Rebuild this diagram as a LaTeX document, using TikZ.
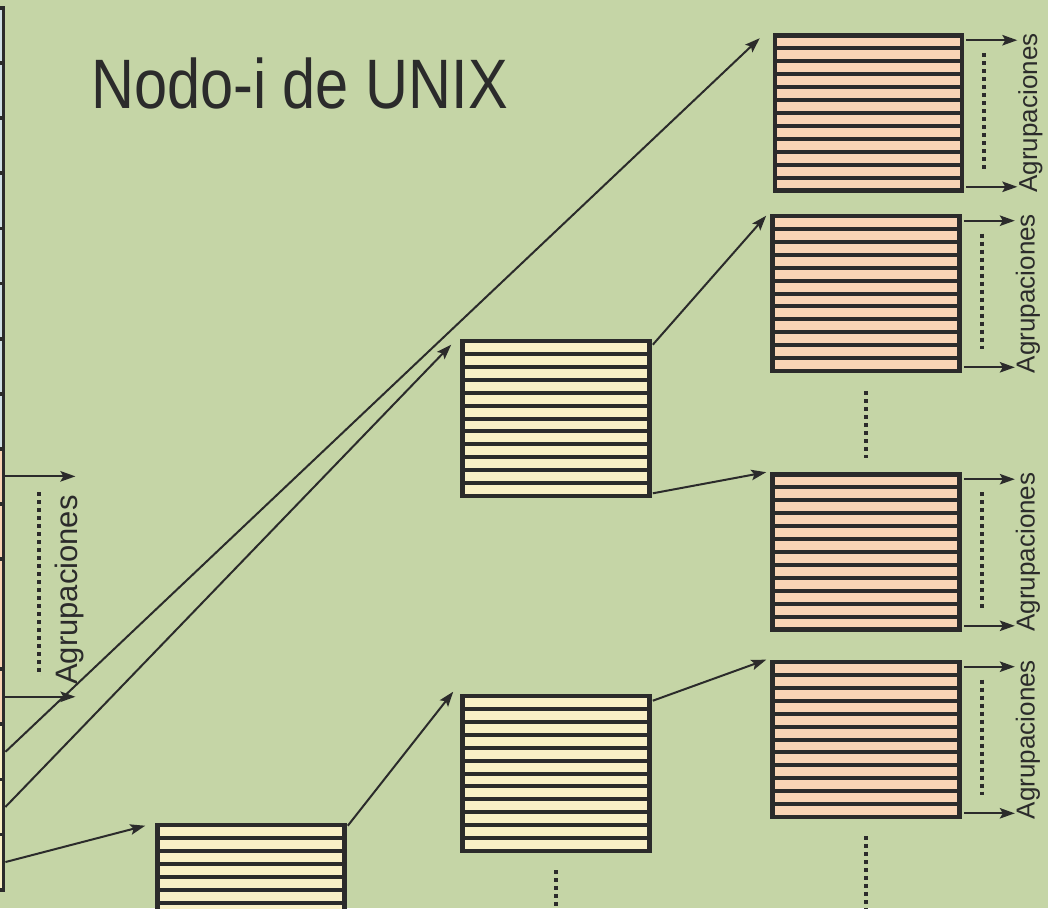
\documentclass[tikz,border=0pt]{standalone}
\usepackage{fontspec}
\setmainfont{Liberation Sans}
\usetikzlibrary{calc,arrows.meta}
\definecolor{bg}{HTML}{C5D5A6}
\definecolor{dk}{HTML}{2B2B2B}
\definecolor{orf}{HTML}{F9D4B5}
\definecolor{ylf}{HTML}{F9F0C6}
\definecolor{blf}{HTML}{D0E0E6}
\begin{document}
\begin{tikzpicture}[x=1pt,y=-1pt,
  stripebox/.style={draw=dk,line width=4.6pt,minimum width=187pt,minimum height=155pt,inner sep=0pt,
    path picture={\foreach \i in {1,...,11}{\draw[dk,line width=4pt] ($(path picture bounding box.north west)!\i/12!(path picture bounding box.south west)$) -- ($(path picture bounding box.north east)!\i/12!(path picture bounding box.south east)$);}}},
  obox/.style={stripebox,fill=orf},
  ybox/.style={stripebox,fill=ylf},
  cell/.style={draw=dk,line width=3.8pt,minimum width=73pt,inner sep=0pt},
  conn/.style={dk,line width=2pt,-{Stealth[length=15pt,width=10.5pt,inset=3pt]}},
  dots/.style={dk,line width=4pt,dash pattern=on 4pt off 4pt},
  lbl/.style={rotate=90,text=dk,inner sep=0pt}
]
\fill[bg] (0,0) rectangle (1048,908);
\useasboundingbox (0,0) rectangle (1048,908);

% left column of the i-node
\foreach \k/\c in {0/blf,1/blf,2/blf,3/blf,4/blf,5/blf,6/blf,7/blf,8/orf,9/orf,12/orf,13/ylf,14/ylf,15/ylf}
  \node[cell,fill=\c,minimum height=55.1pt] (c\k) at (-33,{8+55.1*(\k+0.5)}) {};
\node[cell,fill=orf,minimum height=110.2pt] (c10) at (-33,{8+55.1*11}) {};

% title
\node[anchor=base west,inner sep=0pt,text=dk,font=\fontsize{70}{70}\selectfont] (title) at (91,108) {\scalebox{0.85}[1]{Nodo-i de UNIX}};

% blocks
\node[obox] (A) at (868.5,113) {};
\node[obox] (B) at (866,293.5) {};
\node[obox] (C) at (866,552) {};
\node[obox] (D) at (866,739.5) {};
\node[ybox] (Y1) at (556,418.5) {};
\node[ybox] (Y2) at (556,773.5) {};
\node[ybox] (Y3) at (251,902.5) {};

% left arrows and label
\draw[conn] (c8.east) -- ++(70,0);
\draw[conn] (c12.east) -- ++(70,0);
\draw[dots] (39,492) -- (39,674);
\node[lbl,font=\fontsize{31}{31}\selectfont] (lL) at (69,590) {Agrupaciones};

% pointers
\draw[conn] (c13.east) -- ($(A.north west)+(-13,5)$);
\draw[conn] (c14.east) -- ($(Y1.north west)+(-9,6)$);
\draw[conn] (c15.east) -- ($(Y3.north west)+(-10,3)$);
\draw[conn] ($(Y1.north east)+(1,6)$) -- ($(B.north west)+(-4,2)$);
\draw[conn] ($(Y1.south east)+(1,-5)$) -- ($(C.north west)+(-4,0)$);
\draw[conn] ($(Y2.north east)+(1,7)$) -- ($(D.north west)+(-4,0)$);
\draw[conn] ($(Y3.north east)+(1,3)$) -- ($(Y2.north west)+(-7,-2)$);

% right side arrows, dots and labels
\foreach \X in {A,B,C,D}{
  \draw[conn] ($(\X.north east)+(2,7)$) -- ++(51,0);
  \draw[conn] ($(\X.south east)+(2,-6)$) -- ++(51,0);
  \draw[dots] ($(\X.north east)+(20,20)$) -- ($(\X.south east)+(20,-24)$);
  \node[lbl,font=\fontsize{26}{26}\selectfont] (l\X) at ($(\X.east)+(66,0)$) {Agrupaciones};
}

% vertical ellipses
\draw[dots] ($(B.south)+(0,18)$) -- ($(C.north)+(0,-14)$);
\draw[dots] ($(D.south)+(0,17)$) -- ($(D.south)+(0,110)$);
\draw[dots] ($(Y2.south)+(0,17)$) -- ($(Y2.south)+(0,80)$);
\end{tikzpicture}
\end{document}
